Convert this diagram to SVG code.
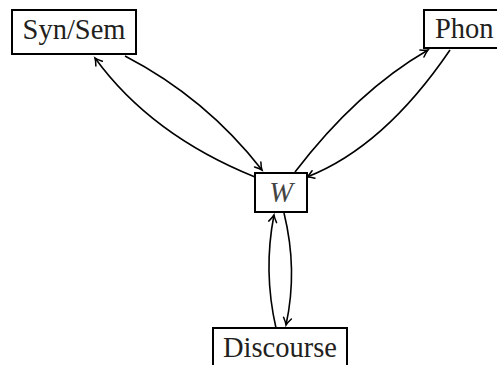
<svg xmlns="http://www.w3.org/2000/svg" width="497" height="365" viewBox="0 0 497 365">
<style>
.box{fill:#fff;stroke:#000;stroke-width:2}
.lbl{font-family:"Liberation Serif","Times New Roman",serif;font-size:28.5px;fill:#231f20}
.it{font-style:italic;fill:#444}
.edge{fill:none;stroke:#000;stroke-width:1.6;marker-end:url(#arr)}
</style>
<defs>
<marker id="arr" markerUnits="userSpaceOnUse" markerWidth="14" markerHeight="14" viewBox="-9 -7 11 14" refX="0" refY="0" orient="auto">
<path d="M -7 -4 Q -2.6 -0.9 0 0 Q -2.6 0.9 -7 4" fill="none" stroke="#000" stroke-width="1.5" stroke-linecap="round"/>
</marker>
</defs>
<g id="edges">
<path class="edge" d="M 125 56 Q 206 98 262 170"/>
<path class="edge" d="M 255 177 Q 151 135 95 58"/>
<path class="edge" d="M 295 172 Q 357 91 428 50"/>
<path class="edge" d="M 450 50 Q 384 147 307 177"/>
<path class="edge" d="M 276 328 Q 263 271 274 215"/>
<path class="edge" d="M 284 213 Q 298 270 286 325"/>
</g>
<g id="synsem">
<rect class="box" x="12" y="10" width="124" height="44"/>
<text class="lbl" x="74" y="39" text-anchor="middle">Syn/Sem</text>
</g>
<g id="phon">
<rect class="box" x="424" y="10" width="82" height="38"/>
<text class="lbl" x="435" y="38">Phon</text>
</g>
<g id="w">
<rect class="box" x="255" y="173" width="52" height="39"/>
<text class="lbl it" x="281" y="202" text-anchor="middle">W</text>
</g>
<g id="discourse">
<rect class="box" x="213" y="328" width="134" height="44"/>
<text class="lbl" x="280" y="357" text-anchor="middle">Discourse</text>
</g>
</svg>
